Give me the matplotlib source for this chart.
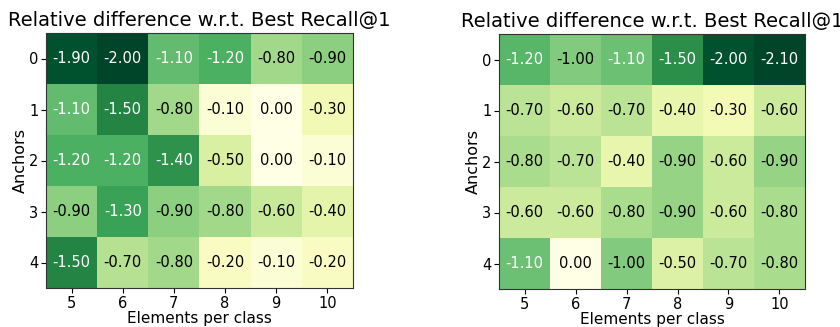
import numpy as np
import matplotlib
matplotlib.use("Agg")
import matplotlib.pyplot as plt

elements = [5, 6, 7, 8, 9, 10]
anchors = [0, 1, 2, 3, 4]

left_vals = np.array([
    [-1.9, -2.0, -1.1, -1.2, -0.8, -0.9],
    [-1.1, -1.5, -0.8, -0.1, 0.0, -0.3],
    [-1.2, -1.2, -1.4, -0.5, 0.0, -0.1],
    [-0.9, -1.3, -0.9, -0.8, -0.6, -0.4],
    [-1.5, -0.7, -0.8, -0.2, -0.1, -0.2],
])

right_vals = np.array([
    [-1.2, -1.0, -1.1, -1.5, -2.0, -2.1],
    [-0.7, -0.6, -0.7, -0.4, -0.3, -0.6],
    [-0.8, -0.7, -0.4, -0.9, -0.6, -0.9],
    [-0.6, -0.6, -0.8, -0.9, -0.6, -0.8],
    [-1.1, 0.0, -1.0, -0.5, -0.7, -0.8],
])

title = "Relative difference w.r.t. Best Recall@1"

fig = plt.figure(figsize=(8.4, 3.27), dpi=100)
ax1 = fig.add_axes([46 / 840, 1 - 288 / 327, 307 / 840, 255 / 327])
ax2 = fig.add_axes([499 / 840, 1 - 289 / 327, 306 / 840, 255 / 327])

for ax, vals in [(ax1, left_vals), (ax2, right_vals)]:
    ax.imshow(vals, cmap="YlGn_r", aspect="auto")
    thresh = vals.min() / 2
    for i in range(vals.shape[0]):
        for j in range(vals.shape[1]):
            color = "white" if vals[i, j] < thresh else "black"
            ax.text(j, i, f"{vals[i, j]:.2f}", ha="center", va="center",
                    color=color, fontsize=10.5)
    ax.set_xticks(range(len(elements)))
    ax.set_xticklabels(elements)
    ax.set_yticks(range(len(anchors)))
    ax.set_yticklabels(anchors)
    ax.tick_params(labelsize=10.5, pad=2)
    ax.set_xlabel("Elements per class", fontsize=11, labelpad=0)
    ax.set_ylabel("Anchors", fontsize=11.5, labelpad=1)
    ax.set_title(title, fontsize=14, pad=5)
    for s in ax.spines.values():
        s.set_color("#333333")

fig.savefig("out.png", dpi=100)
